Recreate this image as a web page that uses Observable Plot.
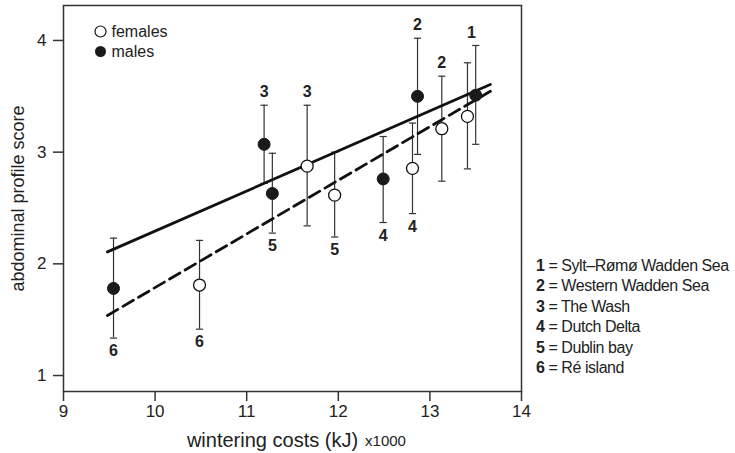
<!DOCTYPE html>
<html><head><meta charset="utf-8">
<script src="https://cdn.jsdelivr.net/npm/d3@7"></script>
<script src="https://cdn.jsdelivr.net/npm/@observablehq/plot@0.6"></script>
<style>
body{margin:0;background:#fff;font-family:"Liberation Sans",Arial,Helvetica,sans-serif;}
#wrap{position:relative;width:735px;height:453px;}
#sites{position:absolute;left:536px;top:255.5px;font-size:16px;letter-spacing:-0.45px;line-height:20.6px;color:#222;white-space:nowrap;}
#sites b{font-weight:bold;}
</style></head><body><div id="wrap"><div id="sites"></div></div>
<script>
// ---- data ----
const siteIds = [1, 2, 3, 4, 5, 6];
const siteNames = ["Sylt–Rømø Wadden Sea", "Western Wadden Sea", "The Wash", "Dutch Delta", "Dublin bay", "Ré island"];
const labelAbove = [true, true, true, false, false, false];

const maleCost  = [13.50, 12.865, 11.19, 12.49, 11.28, 9.546];
const maleScore = [3.51, 3.50, 3.07, 2.76, 2.63, 1.78];
const maleLow   = [3.07, 2.98, 2.72, 2.37, 2.275, 1.335];
const maleHigh  = [3.955, 4.02, 3.42, 3.14, 2.99, 2.23];

const femaleCost  = [13.41, 13.13, 11.66, 12.81, 11.96, 10.485];
const femaleScore = [3.32, 3.21, 2.875, 2.855, 2.615, 1.81];
const femaleLow   = [2.85, 2.74, 2.34, 2.45, 2.24, 1.415];
const femaleHigh  = [3.80, 3.68, 3.42, 3.26, 3.00, 2.21];

const maleTrendCost = [9.48, 13.66];
const maleTrendScore = [2.107, 3.606];
const femaleTrendCost = [9.48, 13.66];
const femaleTrendScore = [1.538, 3.545];

const xTicks = [9, 10, 11, 12, 13, 14];
const yTicks = [1, 2, 3, 4];
const legendSexes = ["females", "males"];

// ---- tables ----
const rows = [];
siteIds.forEach((id, i) => {
  rows.push({sex: "males", site: id, cost: maleCost[i], score: maleScore[i], lo: maleLow[i], hi: maleHigh[i]});
  rows.push({sex: "females", site: id, cost: femaleCost[i], score: femaleScore[i], lo: femaleLow[i], hi: femaleHigh[i]});
});
const labels = [];
siteIds.forEach((id, i) => {
  if (id === 1) {
    labels.push({site: id, cost: (maleCost[i] + femaleCost[i]) / 2, y: Math.max(maleHigh[i], femaleHigh[i]), above: true});
  } else {
    const ab = labelAbove[i];
    labels.push({site: id, cost: maleCost[i], y: ab ? maleHigh[i] : maleLow[i], above: ab});
    labels.push({site: id, cost: femaleCost[i], y: ab ? femaleHigh[i] : femaleLow[i], above: ab});
  }
});
const maleTrend = maleTrendCost.map((c, i) => ({cost: c, score: maleTrendScore[i]}));
const femaleTrend = femaleTrendCost.map((c, i) => ({cost: c, score: femaleTrendScore[i]}));

const cap = {draw(ctx, size) { const r = Math.sqrt(size / Math.PI); ctx.moveTo(-r, 0); ctx.lineTo(r, 0); }};
const ink = "#222";
const fmt = d => String(d);

const chart = Plot.plot({
  width: 735, height: 453,
  marginLeft: 63, marginRight: 214, marginTop: 5, marginBottom: 62,
  style: {fontFamily: '"Liberation Sans", Arial, Helvetica, sans-serif', color: ink, background: "white"},
  x: {domain: [9, 14]},
  y: {domain: [0.857, 4.313]},
  marks: [
    Plot.axisX({ticks: xTicks, tickFormat: fmt, tickSize: 10, tickPadding: 3, fontSize: 17, label: null, strokeWidth: 1.5, stroke: "#333"}),
    Plot.axisY({ticks: yTicks, tickFormat: fmt, tickSize: 10, tickPadding: 7, fontSize: 17, label: null, strokeWidth: 1.5, stroke: "#333"}),
    Plot.frame({stroke: "#333", strokeWidth: 1.5}),
    // error bars
    Plot.ruleX(rows, {x: "cost", y1: "lo", y2: "hi", stroke: "#333", strokeWidth: 1.2}),
    Plot.dot(rows, {x: "cost", y: "lo", symbol: cap, r: 3.6, stroke: "#333", strokeWidth: 1.2}),
    Plot.dot(rows, {x: "cost", y: "hi", symbol: cap, r: 3.6, stroke: "#333", strokeWidth: 1.2}),
    // trend lines
    Plot.line(maleTrend, {x: "cost", y: "score", stroke: "#111", strokeWidth: 2.8}),
    Plot.line(femaleTrend, {x: "cost", y: "score", stroke: "#111", strokeWidth: 2.8, strokeDasharray: "12,6"}),
    // points
    Plot.dot(rows.filter(d => d.sex === "females"), {x: "cost", y: "score", r: 6, fill: "white", stroke: "#111", strokeWidth: 1.3}),
    Plot.dot(rows.filter(d => d.sex === "males"), {x: "cost", y: "score", r: 6, fill: "#1a1a1a", stroke: "#1a1a1a", strokeWidth: 1}),
    // site labels
    Plot.text(labels.filter(d => d.above), {x: "cost", y: "y", text: "site", dy: -13, fontSize: 16, fontWeight: "bold", fill: ink, lineAnchor: "middle"}),
    Plot.text(labels.filter(d => !d.above), {x: "cost", y: "y", text: "site", dy: 13, fontSize: 16, fontWeight: "bold", fill: ink, lineAnchor: "middle"}),
    // top-left legend
    Plot.dot(legendSexes.filter(d => d === "females"), {frameAnchor: "top-left", dx: 37, dy: 26, r: 5.5, fill: "white", stroke: "#111", strokeWidth: 1.2}),
    Plot.dot(legendSexes.filter(d => d === "males"), {frameAnchor: "top-left", dx: 37, dy: 46, r: 5.5, fill: "#1a1a1a"}),
    Plot.text(legendSexes.filter(d => d === "females"), {frameAnchor: "top-left", dx: 48, dy: 26, text: d => d, textAnchor: "start", lineAnchor: "middle", fontSize: 16, fill: ink}),
    Plot.text(legendSexes.filter(d => d === "males"), {frameAnchor: "top-left", dx: 48, dy: 46, text: d => d, textAnchor: "start", lineAnchor: "middle", fontSize: 16, fill: ink}),
    // axis titles
    Plot.text(["abdominal profile score"], {frameAnchor: "left", dx: -45, rotate: -90, text: d => d, textAnchor: "middle", lineAnchor: "middle", fontSize: 18, fill: ink}),
    Plot.text(["wintering costs (kJ)"], {frameAnchor: "bottom", dy: 49, dx: -20, text: d => d, textAnchor: "middle", lineAnchor: "middle", fontSize: 20, fill: ink}),
    Plot.text(["x1000"], {frameAnchor: "bottom", dy: 50, dx: 93, text: d => d, textAnchor: "middle", lineAnchor: "middle", fontSize: 15, fill: ink})
  ]
});
document.getElementById("wrap").prepend(chart);

document.getElementById("sites").innerHTML = siteIds.map((id, i) => `<div><b>${id}</b> = ${siteNames[i]}</div>`).join("");
</script>
</body></html>
